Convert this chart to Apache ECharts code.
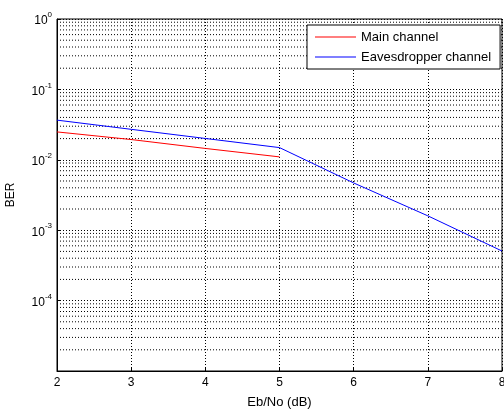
<!DOCTYPE html>
<html>
<head>
<meta charset="utf-8">
<script src="https://cdn.jsdelivr.net/npm/echarts@6/dist/echarts.min.js"></script>
<style>
html,body{margin:0;padding:0;background:#fff;}
#chart{width:504px;height:410px;}
</style>
</head>
<body>
<div id="chart"></div>
<script>
// Data
const ebnoMain = [2, 3, 4, 5];
const berMain = [0.0249, 0.0194, 0.0145, 0.0110];
const ebnoEve = [2, 3, 4, 5, 6, 7, 8];
const berEve = [0.0366, 0.0271, 0.0201, 0.0149, 0.00469, 0.00160, 0.000506];
const seriesNames = ['Main channel', 'Eavesdropper channel'];
const xTicks = [2, 3, 4, 5, 6, 7, 8];
const yDecadeExponents = [-5, -4, -3, -2, -1, 0];
const minorMultipliers = [2, 3, 4, 5, 6, 7, 8, 9];

const FONT = '"Liberation Sans", Arial, sans-serif';
const xMin = xTicks[0], xMax = xTicks[xTicks.length - 1];

// Minor log grid (2..9 x 10^e) as one broken line series through the axes' scales
const minorGrid = [];
yDecadeExponents.slice(0, -1).forEach(function (e) {
  minorMultipliers.forEach(function (m) {
    const v = m * Math.pow(10, e);
    minorGrid.push([xMin, v], [xMax, v], '-');
  });
});

const chart = echarts.init(document.getElementById('chart'), null, { renderer: 'canvas' });
chart.setOption({
  backgroundColor: '#fff',
  animation: false,
  textStyle: { fontFamily: FONT, color: '#000' },
  grid: {
    left: 57, right: 2, top: 19, bottom: 39,
    outerBoundsMode: 'none', containLabel: false,
    show: true, borderColor: '#000', borderWidth: 1, backgroundColor: 'transparent'
  },
  legend: {
    data: seriesNames,
    orient: 'vertical',
    left: 307, top: 25,
    backgroundColor: '#fff',
    borderColor: '#000', borderWidth: 1, borderRadius: 0,
    padding: [5, 9, 5, 8],
    icon: 'rect',
    itemWidth: 41, itemHeight: 1, itemGap: 6,
    textStyle: { fontFamily: FONT, fontSize: 13, color: '#000', lineHeight: 14, height: 14 }
  },
  xAxis: {
    type: 'value',
    min: xMin, max: xMax, interval: 1,
    name: 'Eb/No (dB)', nameLocation: 'middle', nameGap: 25,
    nameTextStyle: { fontFamily: FONT, fontSize: 13, color: '#000' },
    axisLine: { show: true, lineStyle: { color: '#000', width: 1 } },
    axisTick: { show: true, inside: true, length: 4, lineStyle: { color: '#000' } },
    axisLabel: { fontFamily: FONT, fontSize: 12, color: '#000', margin: 6, showMinLabel: true, showMaxLabel: true, hideOverlap: false },
    splitLine: { show: true, lineStyle: { color: '#000', type: [1, 2], width: 1 } }
  },
  yAxis: {
    type: 'log', logBase: 10,
    min: Math.pow(10, yDecadeExponents[0]), max: Math.pow(10, yDecadeExponents[yDecadeExponents.length - 1]),
    interval: 1,
    name: 'BER', nameLocation: 'middle', nameGap: 40, nameRotate: 90,
    nameTextStyle: { fontFamily: FONT, fontSize: 12, color: '#000' },
    axisLine: { show: true, lineStyle: { color: '#000', width: 1 } },
    axisTick: { show: true, inside: true, length: 4, lineStyle: { color: '#000' } },
    axisLabel: {
      margin: 5,
      formatter: function (v) {
        const e = Math.round(Math.log10(v));
        if (e === yDecadeExponents[0]) return '';
        return '{b|10}{s|' + e + '}';
      },
      rich: {
        b: { fontFamily: FONT, fontSize: 12, color: '#000', verticalAlign: 'bottom', lineHeight: 16 },
        s: { fontFamily: FONT, fontSize: 8, color: '#000', verticalAlign: 'top', lineHeight: 16 }
      }
    },
    splitLine: { show: true, lineStyle: { color: '#000', type: [1, 2], width: 1 } }
  },
  series: [
    {
      name: 'minor-grid', type: 'line', data: minorGrid, silent: true, z: 1,
      symbol: 'none', connectNulls: false,
      lineStyle: { color: '#000', type: [1, 2], width: 1 },
      emphasis: { disabled: true }, tooltip: { show: false }
    },
    {
      name: seriesNames[0], type: 'line', z: 3,
      data: ebnoMain.map(function (x, i) { return [x, berMain[i]]; }),
      symbol: 'none', smooth: false,
      lineStyle: { color: '#ff0000', width: 1 }, itemStyle: { color: '#ff0000' }
    },
    {
      name: seriesNames[1], type: 'line', z: 3,
      data: ebnoEve.map(function (x, i) { return [x, berEve[i]]; }),
      symbol: 'none', smooth: false,
      lineStyle: { color: '#0000ff', width: 1 }, itemStyle: { color: '#0000ff' }
    }
  ]
});
</script>
</body>
</html>
